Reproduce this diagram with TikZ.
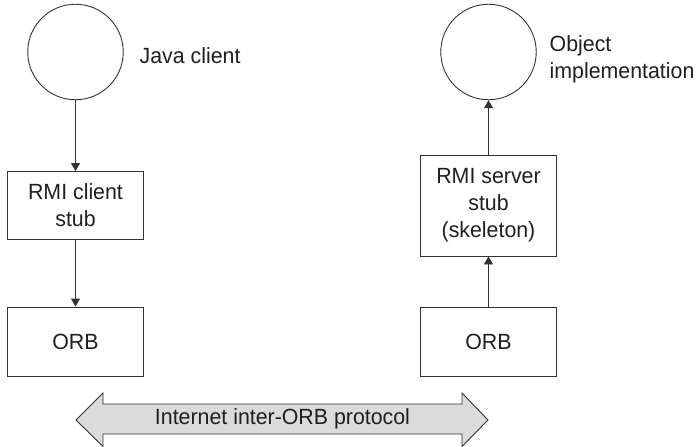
\documentclass[tikz,border=0pt]{standalone}
\usepackage{fontspec}
\setmainfont[FakeStretch=0.97]{Liberation Sans}
\usetikzlibrary{arrows.meta}
\definecolor{linec}{gray}{0.2}
\definecolor{textc}{gray}{0.12}
\definecolor{arrowfill}{gray}{0.86}
\begin{document}
\begin{tikzpicture}[x=1pt,y=-1pt,
  font=\fontsize{22}{27}\selectfont,
  every node/.style={text=textc},
  circ/.style={circle,draw=linec,line width=0.9pt,minimum size=95.5pt,inner sep=0pt},
  boxnode/.style={draw=linec,line width=0.9pt,minimum width=136pt,align=center,inner sep=0pt},
  conn/.style={draw=linec,line width=0.9pt,-{Triangle[length=8pt,width=9pt]}},
  lbl/.style={inner sep=0pt,align=left}]
\useasboundingbox (0,0) rectangle (697,447);
\node[circ] (jc) at (75.5,52) {};
\node[circ] (oi) at (488.5,52) {};
\node[lbl,anchor=base west] (jcl) at (139.5,63.5) {Java client};
\node[lbl,anchor=base west] (oil1) at (549.5,51.7) {Object};
\node[lbl,anchor=base west] (oil2) at (549.5,78.7) {implementation};
\node[boxnode,minimum height=68pt] (rcs) at (75.5,205.5) {RMI client\\stub};
\node[boxnode,minimum height=69pt] (orbl) at (75.5,341.5) {ORB};
\node[boxnode,minimum height=101pt] (sk) at (488.5,205.5) {RMI server\\stub\\(skeleton)};
\node[boxnode,minimum height=69pt] (orbr) at (488.5,341.5) {ORB};
\draw[conn] (jc.south) -- (rcs.north);
\draw[conn] (rcs.south) -- (orbl.north);
\draw[conn] (orbr.north) -- (sk.south);
\draw[conn] (sk.north) -- (oi.south);
\draw[draw=linec,fill=arrowfill,line width=0.9pt]
  (76,420) -- (103,393) -- (103,404) -- (462,404) -- (462,393) -- (488,420)
  -- (462,446.5) -- (462,434) -- (103,434) -- (103,446.5) -- cycle;
\node[inner sep=0pt] (iiop) at (282.5,419) {Internet inter-ORB protocol};
\end{tikzpicture}
\end{document}
